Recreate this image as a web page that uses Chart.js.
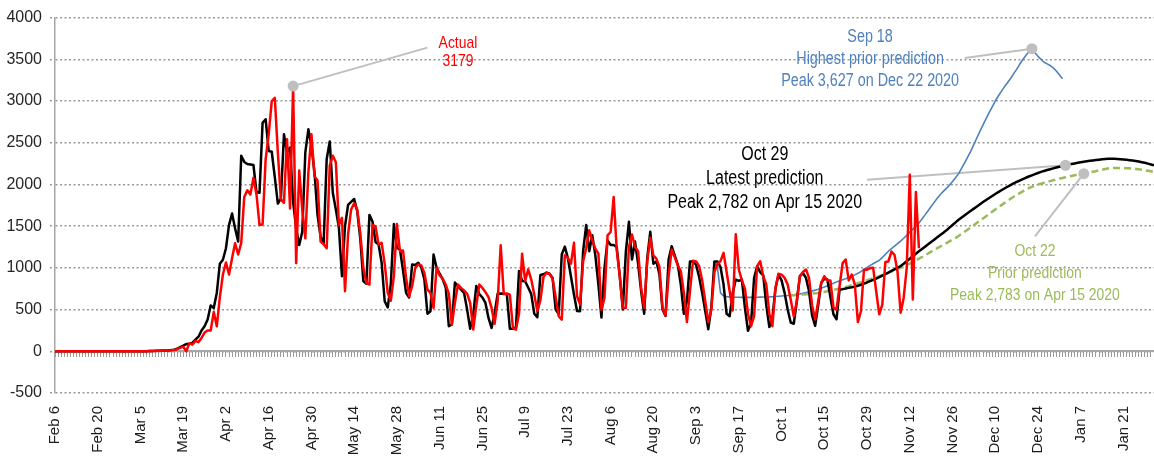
<!DOCTYPE html>
<html>
<head>
<meta charset="utf-8">
<script src="https://cdn.jsdelivr.net/npm/chart.js@4.4.1/dist/chart.umd.min.js"></script>
<style>
html, body { margin: 0; padding: 0; background: #fff; }
#wrap { width: 1154px; height: 460px; }
</style>
</head>
<body>
<div id="wrap"><canvas id="deathsChart"></canvas></div>
<script>
// One value per day, index 0 = Feb 6 2020, last index 360 = Jan 31 2021
const dayCount = 361;
const monthNames = ['Jan', 'Feb', 'Mar', 'Apr', 'May', 'Jun', 'Jul', 'Aug', 'Sep', 'Oct', 'Nov', 'Dec'];

// labels shown on the x axis, every two weeks
const tickLabels = ['Feb 6', 'Feb 20', 'Mar 5', 'Mar 19', 'Apr 2', 'Apr 16', 'Apr 30', 'May 14', 'May 28',
    'Jun 11', 'Jun 25', 'Jul 9', 'Jul 23', 'Aug 6', 'Aug 20', 'Sep 3', 'Sep 17', 'Oct 1', 'Oct 15', 'Oct 29',
    'Nov 12', 'Nov 26', 'Dec 10', 'Dec 24', 'Jan 7', 'Jan 21'];

// Reported daily deaths (red)
const actual = [
    0, 0, 0, 0, 0, 0, 0, 0, 0, 0,
    0, 0, 0, 0, 0, 0, 0, 0, 0, 0,
    0, 0, 0, 0, 0, 0, 0, 0, 0, 0,
    0, 2, 3, 4, 5, 6, 8, 10, 12, 16,
    25, 40, 55, 0, 95, 80, 125, 110, 160, 225,
    250, 250, 470, 300, 650, 920, 1065, 920, 1117, 1295,
    1160, 1300, 1850, 1929, 1880, 2079, 1880, 1513, 1520, 2300,
    2600, 3000, 3037, 2380, 1820, 1780, 2542, 1711, 3179, 1057,
    2166, 1700, 1354, 2146, 2602, 2100, 2047, 1315, 1283, 1235,
    2225, 2344, 2265, 1513, 1600, 720, 1400, 1700, 1774, 1700,
    1420, 1000, 820, 800, 1517, 1497, 1280, 1300, 1050, 700,
    606, 900, 1525, 1200, 1208, 880, 660, 780, 1000, 1041,
    1030, 940, 740, 700, 520, 1002, 910, 870, 800, 690,
    320, 580, 800, 760, 730, 690, 580, 260, 546, 800,
    760, 710, 650, 520, 330, 600, 1271, 685, 693, 680,
    280, 260, 450, 1168, 843, 982, 860, 680, 480, 610,
    890, 943, 925, 870, 650, 420, 380, 1150, 1120, 1050,
    1300, 660, 562, 1080, 1235, 1450, 1330, 1230, 1170, 500,
    641, 1390, 1430, 1849, 1220, 900, 523, 520, 1250, 1400,
    1250, 1200, 760, 523, 1077, 1362, 1150, 1110, 1010, 520,
    430, 900, 1220, 1130, 1030, 960, 700, 350, 720, 1085,
    1077, 1020, 850, 600, 350, 500, 950, 1050, 1080, 1180,
    950, 720, 490, 1402, 980, 850, 750, 450, 300, 420,
    1020, 1080, 900, 800, 450, 300, 760, 930, 919, 880,
    800, 620, 420, 600, 900, 950, 980, 880, 550, 380,
    600, 820, 900, 850, 850, 523, 500, 780, 1057, 1100,
    850, 919, 800, 350, 480, 978, 978, 998, 1000, 720,
    444, 560, 1070, 1077, 1196, 1156, 950, 463, 640, 998,
    2115, 622, 1909, 1235
];

// Oct 29 model, fitted history then forecast (black)
const latestPrediction = [
    0, 0, 0, 0, 0, 0, 0, 0, 0, 0,
    0, 0, 0, 0, 0, 0, 0, 0, 0, 0,
    0, 0, 0, 0, 0, 0, 0, 0, 0, 0,
    0, 3, 4, 5, 6, 8, 10, 12, 15, 20,
    30, 50, 67, 87, 88, 100, 140, 175, 250, 300,
    380, 550, 520, 700, 1050, 1097, 1235, 1513, 1651, 1473,
    1315, 2344, 2270, 2245, 2240, 2233, 1909, 1900, 2740, 2782,
    2400, 2392, 2087, 1770, 1830, 2602, 2384, 2443, 1790, 1473,
    1275, 1433, 2384, 2661, 2463, 2146, 1632, 1374, 1295, 2305,
    2515, 1900, 1700, 1480, 900, 1500, 1754, 1790, 1826, 1680,
    1350, 843, 810, 1635, 1556, 1310, 1280, 1060, 600, 527,
    804, 1525, 1240, 1220, 970, 700, 645, 1041, 1034, 1061,
    1002, 860, 450, 480, 1160, 1002, 930, 863, 764, 300,
    321, 824, 780, 740, 700, 500, 269, 440, 784, 685,
    645, 580, 400, 280, 450, 690, 693, 690, 685, 269,
    269, 290, 962, 843, 840, 764, 685, 450, 408, 915,
    923, 943, 930, 880, 500, 447, 1160, 1255, 1117, 900,
    680, 483, 480, 1200, 1513, 1200, 1390, 1150, 800, 404,
    1000, 1330, 1275, 1275, 1250, 900, 500, 1196, 1552, 1100,
    1315, 1050, 720, 450, 1117, 1433, 1050, 1077, 920, 500,
    424, 1100, 1260, 1150, 1040, 800, 450, 600, 1077, 1077,
    1038, 890, 700, 483, 265, 523, 1077, 1077, 1010, 800,
    450, 420, 700, 860, 845, 860, 520, 246, 330, 879,
    1018, 950, 910, 550, 290, 400, 750, 919, 850, 700,
    500, 345, 330, 600, 900, 938, 880, 720, 430, 305,
    550, 820, 870, 860, 650, 444, 384, 740, 745, 752,
    760, 767, 775, 786, 798, 811, 825, 840, 855, 871,
    888, 906, 925, 944, 963, 982, 1002, 1022, 1050, 1080,
    1110, 1140, 1170, 1198, 1226, 1254, 1282, 1310, 1338, 1366,
    1394, 1422, 1450, 1482, 1514, 1545, 1576, 1604, 1631, 1658,
    1684, 1710, 1737, 1763, 1789, 1814, 1838, 1862, 1885, 1908,
    1930, 1951, 1972, 1992, 2012, 2030, 2047, 2064, 2080, 2095,
    2109, 2123, 2137, 2150, 2162, 2173, 2183, 2193, 2203, 2212,
    2221, 2230, 2238, 2245, 2252, 2259, 2265, 2271, 2277, 2283,
    2288, 2293, 2297, 2301, 2304, 2307, 2309, 2308, 2306, 2303,
    2300, 2296, 2291, 2286, 2281, 2275, 2267, 2259, 2250, 2240,
    2230
];

// Sep 18 model forecast (blue), starts at day index 216
const sep18Start = 216;
const sep18Prediction = [
    1077, 1000, 700, 665, 655, 652, 650, 648, 647, 646,
    646, 646, 646, 647, 648, 649, 650, 651, 652, 654,
    656, 659, 662, 665, 668, 672, 677, 682, 688, 695,
    703, 712, 722, 733, 745, 758, 771, 785, 800, 815,
    832, 845, 858, 870, 884, 900, 916, 935, 955, 980,
    1005, 1030, 1050, 1070, 1090, 1125, 1162, 1200, 1230, 1260,
    1290, 1320, 1355, 1390, 1428, 1465, 1500, 1537, 1585, 1635,
    1685, 1735, 1785, 1835, 1880, 1917, 1953, 1990, 2035, 2080,
    2130, 2195, 2262, 2330, 2400, 2480, 2560, 2640, 2715, 2790,
    2860, 2930, 3000, 3060, 3115, 3170, 3220, 3270, 3325, 3380,
    3440, 3495, 3545, 3590, 3627, 3580, 3536, 3500, 3465, 3445,
    3425, 3398, 3360, 3315, 3267
];

// Oct 22 model forecast (green dashed), starts at day index 241
const oct22Start = 241;
const oct22Prediction = [
    670, 672, 674, 677, 680, 684, 688, 692, 696, 700,
    706, 712, 720, 727, 735, 744, 753, 762, 771, 780,
    792, 804, 816, 828, 840, 852, 864, 876, 888, 900,
    914, 928, 942, 956, 970, 986, 1002, 1018, 1034, 1050,
    1070, 1090, 1110, 1130, 1150, 1172, 1194, 1216, 1236, 1256,
    1276, 1296, 1318, 1340, 1360, 1382, 1408, 1434, 1460, 1486,
    1512, 1540, 1566, 1592, 1618, 1645, 1672, 1699, 1726, 1752,
    1778, 1803, 1828, 1852, 1874, 1895, 1916, 1936, 1955, 1972,
    1988, 2000, 2010, 2020, 2030, 2040, 2050, 2060, 2070, 2078,
    2086, 2094, 2102, 2110, 2117, 2123, 2129, 2136, 2144, 2152,
    2160, 2168, 2176, 2184, 2192, 2195, 2197, 2198, 2198, 2197,
    2195, 2193, 2190, 2186, 2181, 2176, 2170, 2164, 2157, 2150
];

// Build the daily category labels
const days = [];
for (let i = 0; i < dayCount; i++) {
    const dt = new Date(2020, 1, 6 + i);
    days.push(monthNames[dt.getMonth()] + ' ' + dt.getDate());
}

// Put a partial series on the full day axis
function onDays(start, values) {
    return days.map((d, i) => (i >= start && i - start < values.length) ? values[i - start] : null);
}

// Callouts: text block plus a grey leader line ending in a dot on a series
const notes = [
    { lines: ['Actual', '3179'], color: '#ff0000', size: 17, day: 132, value: 3695, gap: 18,
      from: [122, 3640], dot: { data: actual, start: 0, day: 78 } },
    { lines: ['Sep 18', 'Highest prior prediction', 'Peak 3,627 on Dec 22 2020'], color: '#4f81bd', size: 17.5,
      day: 267, value: 3766, gap: 22, from: [298, 3516], dot: { data: sep18Prediction, start: sep18Start, day: 320 } },
    { lines: ['Oct 29', 'Latest prediction', 'Peak 2,782 on Apr 15 2020'], color: '#000000', size: 19.5,
      day: 232.5, value: 2352, gap: 24, from: [266, 2055], dot: { data: latestPrediction, start: 0, day: 331 } },
    { lines: ['Oct 22', 'Prior prediction', 'Peak 2,783 on Apr 15 2020'], color: '#9bbb59', size: 17,
      day: 321, value: 1200, gap: 22, from: [321, 1378], dot: { data: oct22Prediction, start: oct22Start, day: 337 } }
];

const fontFamily = '"Liberation Sans", Arial, sans-serif';

const calloutPlugin = {
    id: 'callouts',
    beforeDatasetsDraw(chart) {
        const { ctx, scales: { x, y } } = chart;
        ctx.save();
        ctx.strokeStyle = '#bfbfbf';
        ctx.lineWidth = 2;
        notes.forEach(n => {
            const v = n.dot.data[n.dot.day - n.dot.start];
            ctx.beginPath();
            ctx.moveTo(x.getPixelForValue(n.from[0]), y.getPixelForValue(n.from[1]));
            ctx.lineTo(x.getPixelForValue(n.dot.day), y.getPixelForValue(v));
            ctx.stroke();
        });
        ctx.restore();
    },
    afterDatasetsDraw(chart) {
        const { ctx, scales: { x, y } } = chart;
        ctx.save();
        notes.forEach(n => {
            const v = n.dot.data[n.dot.day - n.dot.start];
            ctx.fillStyle = '#bfbfbf';
            ctx.beginPath();
            ctx.arc(x.getPixelForValue(n.dot.day), y.getPixelForValue(v), 5.5, 0, Math.PI * 2);
            ctx.fill();

            // narrow look: squeeze the text horizontally
            ctx.fillStyle = n.color;
            ctx.font = n.size + 'px ' + fontFamily;
            ctx.textAlign = 'center';
            ctx.textBaseline = 'middle';
            const cx = x.getPixelForValue(n.day);
            const cy = y.getPixelForValue(n.value);
            n.lines.forEach((line, i) => {
                ctx.save();
                ctx.translate(cx, cy + i * n.gap);
                ctx.scale(0.82, 1);
                ctx.fillText(line, 0, 0);
                ctx.restore();
            });
        });
        ctx.restore();
    }
};

const ctx = document.getElementById('deathsChart').getContext('2d');

const deathsChart = new Chart(ctx, {
    type: 'line',
    data: {
        labels: days,
        datasets: [
            { label: 'Actual', data: onDays(0, actual), borderColor: '#ff0000', borderWidth: 2.5, order: 1 },
            { label: 'Oct 29', data: onDays(0, latestPrediction), borderColor: '#000000', borderWidth: 2.5, order: 2 },
            { label: 'Oct 22', data: onDays(oct22Start, oct22Prediction), borderColor: '#9bbb59', borderWidth: 2.5,
              borderDash: [7, 4], order: 3 },
            { label: 'Sep 18', data: onDays(sep18Start, sep18Prediction), borderColor: '#4f81bd', borderWidth: 1.6, order: 4 }
        ]
    },
    options: {
        responsive: true,
        maintainAspectRatio: false,
        animation: false,
        devicePixelRatio: 1,
        layout: { padding: { top: 14, left: 0, right: 0, bottom: 0 } },
        elements: {
            point: { radius: 0 },
            line: { tension: 0, borderJoinStyle: 'round', fill: false }
        },
        plugins: {
            legend: { display: false },
            tooltip: { enabled: false }
        },
        scales: {
            // axis line at zero with a tick mark for every day
            x: {
                type: 'category',
                position: { y: 0 },
                grid: { drawOnChartArea: false, drawTicks: true, tickLength: 5, tickColor: '#9a9a9a', tickWidth: 1 },
                border: { display: true, color: '#a6a6a6', width: 2 },
                ticks: { display: false, autoSkip: false }
            },
            // date labels along the bottom
            x2: {
                type: 'category',
                position: 'bottom',
                grid: { display: false, drawTicks: false },
                border: { display: false },
                ticks: {
                    autoSkip: false,
                    minRotation: 90,
                    maxRotation: 90,
                    padding: 13,
                    color: '#1a1a1a',
                    font: { family: fontFamily, size: 15 },
                    callback: (value, index) => tickLabels.includes(days[index]) ? days[index] : ''
                },
                afterFit: scale => {
                    scale.height = 67;
                    scale.paddingLeft = 0;
                    scale.paddingRight = 0;
                }
            },
            y: {
                min: -500,
                max: 4000,
                ticks: {
                    stepSize: 500,
                    padding: 8,
                    color: '#262626',
                    font: { family: fontFamily, size: 16 },
                    callback: value => String(value)
                },
                grid: { color: '#999999', lineWidth: 1.4, drawTicks: true, tickLength: 5, tickColor: '#999999',
                        tickWidth: 1.4, tickBorderDash: [2, 2.5] },
                border: { display: true, color: '#a6a6a6', width: 1.5, dash: [2, 2.5] },
                afterFit: scale => { scale.width = 55; }
            }
        }
    },
    plugins: [calloutPlugin]
});
</script>
</body>
</html>
